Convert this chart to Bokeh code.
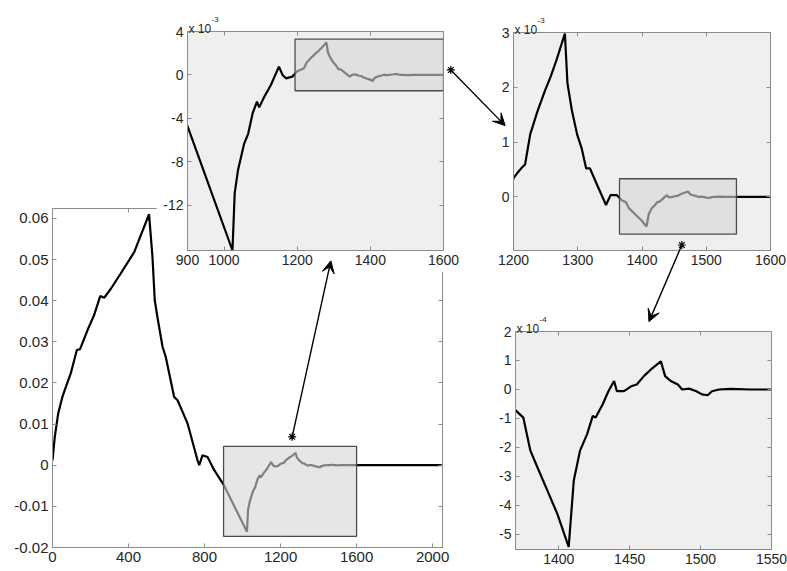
from bokeh.plotting import figure
from bokeh.models import (Range1d, FixedTicker, CustomJSTickFormatter, LinearAxis,
                          Arrow, VeeHead, Label, ColumnDataSource)
from bokeh.embed import file_html
from bokeh.resources import INLINE

# ---------------- data ----------------
# coarse part, absolute units
t_a = [0, 12, 30, 52, 70, 96, 128, 145, 184, 219, 251, 272, 307, 359, 430, 508,
       526, 538, 552, 579, 596, 640, 658, 711, 763, 772, 789, 816, 851, 900]
v_a = [0.0012, 0.0069, 0.0126, 0.0166, 0.019, 0.0223, 0.028, 0.0282, 0.0328, 0.0365,
       0.0411, 0.0407, 0.0429, 0.0466, 0.0518, 0.061, 0.0506, 0.0401, 0.036, 0.0288,
       0.0263, 0.0166, 0.0158, 0.0101, 0.0012, 0.0, 0.0024, 0.002, -0.0012, -0.0047]
# first zoom (values in units of 1e-3)
t_b = [1023, 1029, 1038, 1055, 1066, 1078, 1090, 1096, 1110, 1128, 1150, 1160, 1169, 1187]
v_b_e3 = [-16.15, -10.9, -8.77, -6.31, -5.39, -3.54, -2.46, -2.98, -2.0, -0.92, 0.77,
          0.0, -0.31, -0.15]
# second zoom (values in units of 1e-3)
t_c = [1200, 1205, 1212, 1218, 1226, 1237, 1249, 1258, 1267, 1280, 1284, 1291, 1299,
       1306, 1313, 1319, 1330, 1344, 1351, 1361]
v_c_e3 = [0.34, 0.42, 0.52, 0.59, 1.14, 1.55, 1.94, 2.2, 2.5, 2.98, 2.07, 1.57, 1.14,
          0.89, 0.52, 0.52, 0.22, -0.15, 0.03, 0.03]
# third zoom (values in units of 1e-4)
t_d = [1369, 1375, 1378, 1380, 1385, 1392, 1399, 1407, 1410.6, 1415, 1420, 1424, 1426,
       1431, 1435, 1439, 1441, 1446, 1451, 1455, 1460, 1465, 1472, 1475, 1479, 1484,
       1487, 1492, 1497, 1501, 1505, 1508, 1513, 1521, 1535, 1550]
v_d_e4 = [-0.69, -0.97, -1.66, -2.11, -2.69, -3.49, -4.29, -5.43, -3.14, -2.11, -1.54,
          -0.91, -0.97, -0.51, -0.06, 0.29, -0.06, -0.06, 0.11, 0.17, 0.46, 0.69, 0.97,
          0.46, 0.29, 0.17, 0.0, 0.03, -0.06, -0.17, -0.2, -0.06, 0.0, 0.02, 0.0, 0.0]
t_tail = [1600, 2048]
v_tail = [0.0, 0.0]

signal_t = t_a + t_b + t_c + t_d + t_tail
signal_v = (v_a + [v * 1e-3 for v in v_b_e3] + [v * 1e-3 for v in v_c_e3]
            + [v * 1e-4 for v in v_d_e4] + v_tail)

# zoom windows: [x0, x1, y0, y1]
box_a = [900, 1600, -0.0173, 0.0046]
box_b = [1194, 1600, -1.45e-3, 3.3e-3]
box_c = [1365, 1547, -0.68e-3, 0.33e-3]

# axis ranges / ticks
xr_a, yr_a = (0, 2052), (-0.02, 0.0624)
xr_b, yr_b = (900, 1600), (-16.15e-3, 4e-3)
xr_c, yr_c = (1200, 1600), (-0.98e-3, 3.0e-3)
xr_d, yr_d = (1369.5, 1550), (-5.52e-4, 2e-4)
xt_a = [0, 400, 800, 1200, 1600, 2000]
yt_a = [-0.02, -0.01, 0, 0.01, 0.02, 0.03, 0.04, 0.05, 0.06]
xt_b = [900, 1000, 1200, 1400, 1600]
yt_b = [-12e-3, -8e-3, -4e-3, 0, 4e-3]
xt_c = [1200, 1300, 1400, 1500, 1600]
yt_c = [0, 1e-3, 2e-3, 3e-3]
xt_d = [1400, 1450, 1500, 1550]
yt_d = [-5e-4, -4e-4, -3e-4, -2e-4, -1e-4, 0, 1e-4, 2e-4]

# arrows: (panel, x, y) start star -> (panel, x, y) arrow tip
arrows = [(("A", 1261, 0.0069), ("B", 1292, -17.1e-3)),
          (("B", 1620, 0.46e-3), ("C", 1187, 1.3e-3)),
          (("C", 1462, -0.88e-3), ("D", 1463.6, 2.34e-4))]
exponents = {"B": "-3", "C": "-3", "D": "-4"}

# ---------------- layout geometry (page pixels) ----------------
W, H = 787, 571
# frame left, frame top, frame width, frame height, border left/top/right/bottom
GEOM = {
    "A": (52, 208, 390, 339, 52, 18, 18, 24),
    "B": (187, 31, 256, 219, 31, 31, 17, 22),
    "C": (513, 32, 257, 218, 33, 32, 17, 25),
    "D": (515, 331, 256, 218, 35, 31, 16, 22),
}
RANGES = {"A": (xr_a, yr_a), "B": (xr_b, yr_b), "C": (xr_c, yr_c), "D": (xr_d, yr_d)}

FONT = "Liberation Sans"
FRAME = "#8c8c8c"
TXT = "#262626"


def to_page(name, x, y):
    fl, ft, fw, fh = GEOM[name][:4]
    (x0, x1), (y0, y1) = RANGES[name]
    return fl + (x - x0) / (x1 - x0) * fw, ft + (y1 - y) / (y1 - y0) * fh


fmt_blank = CustomJSTickFormatter(code="return '';")


def make_panel(name, xticks, yticks, xfmt, yfmt, bg, fs):
    fl, ft, fw, fh, bl, bt, br, bb = GEOM[name]
    xr, yr = RANGES[name]
    p = figure(frame_width=fw, frame_height=fh, x_range=Range1d(*xr), y_range=Range1d(*yr),
               output_backend="svg", toolbar_location=None,
               min_border_left=bl, min_border_top=bt,
               min_border_right=br, min_border_bottom=bb)
    p.background_fill_color = bg
    p.border_fill_color = "white"
    p.outline_line_color = FRAME
    p.grid.visible = False
    p.add_layout(LinearAxis(), "above")
    p.add_layout(LinearAxis(), "right")
    for ax, tk, fmt in ((p.below[0], xticks, xfmt), (p.left[0], yticks, yfmt),
                        (p.above[0], xticks, None), (p.right[0], yticks, None)):
        ax.ticker = FixedTicker(ticks=tk)
        ax.axis_line_color = FRAME
        ax.major_tick_line_color = FRAME
        ax.major_tick_in = 4
        ax.major_tick_out = 0
        ax.minor_tick_line_color = None
        if fmt is None:
            ax.formatter = fmt_blank
            ax.major_label_text_font_size = "1px"
            ax.major_label_standoff = 0
        else:
            ax.formatter = fmt
            ax.major_label_text_font = FONT
            ax.major_label_text_font_size = fs
            ax.major_label_text_color = TXT
            ax.major_label_standoff = 4
    p.styles = {"position": "absolute", "left": f"{fl - bl}px", "top": f"{ft - bt}px"}
    src = ColumnDataSource(dict(t=signal_t, v=signal_v))
    p.line("t", "v", source=src, line_color="black", line_width=2.2)
    return p


fmt_int = CustomJSTickFormatter(code="return String(Math.round(tick));")
fmt_a = CustomJSTickFormatter(code="const v = Math.round(tick*100)/100; return v === 0 ? '0' : v.toFixed(2);")
fmt_e3 = CustomJSTickFormatter(code="return String(Math.round(tick*1e3));")
fmt_e4 = CustomJSTickFormatter(code="return String(Math.round(tick*1e4));")

pA = make_panel("A", xt_a, yt_a, fmt_int, fmt_a, "white", "15px")
pB = make_panel("B", xt_b, yt_b, fmt_int, fmt_e3, "#efefef", "14px")
pC = make_panel("C", xt_c, yt_c, fmt_int, fmt_e3, "#efefef", "14px")
pD = make_panel("D", xt_d, yt_d, fmt_int, fmt_e4, "#efefef", "14px")

for p, b in ((pA, box_a), (pB, box_b), (pC, box_c)):
    p.quad(left=[b[0]], right=[b[1]], bottom=[b[2]], top=[b[3]],
           fill_color="#d6d6d6", fill_alpha=0.6, line_color="#4d4d4d", line_width=1.3)

# ---------------- overlay for arrows and exponent labels (page-pixel ranges) ----------------
ov = figure(width=W, height=H, x_range=Range1d(0, W), y_range=Range1d(H, 0),
            output_backend="svg", toolbar_location=None,
            x_axis_location=None, y_axis_location=None, min_border=0)
ov.background_fill_alpha = 0
ov.border_fill_alpha = 0
ov.outline_line_color = None
ov.grid.visible = False
ov.styles = {"position": "absolute", "left": "0px", "top": "0px", "pointer-events": "none"}

sx, sy = [], []
for (pa, xa, ya), (pb, xb, yb) in arrows:
    x0, y0 = to_page(pa, xa, ya)
    x1, y1 = to_page(pb, xb, yb)
    sx.append(x0)
    sy.append(y0)
    ov.add_layout(Arrow(x_start=x0, y_start=y0, x_end=x1, y_end=y1, line_color="black",
                        line_width=1.4,
                        end=VeeHead(size=12, fill_color="black", line_color="black", line_width=1)))
ov.scatter(sx, sy, marker="asterisk", size=8, line_color="black", line_width=1.2)

for name, ex in exponents.items():
    fl, ft = GEOM[name][:2]
    ov.add_layout(Label(x=fl + 1, y=ft - 3, text="x 10", text_font=FONT,
                        text_font_size="12px", text_color=TXT, text_baseline="alphabetic"))
    ov.add_layout(Label(x=fl + 24, y=ft - 12, text=ex, text_font=FONT,
                        text_font_size="8px", text_color=TXT, text_baseline="alphabetic"))

# separate roots, stacked in this order (later ones on top)
p = [pA, pB, pC, pD, ov]
open("out.html", "w").write(file_html(p, INLINE))
